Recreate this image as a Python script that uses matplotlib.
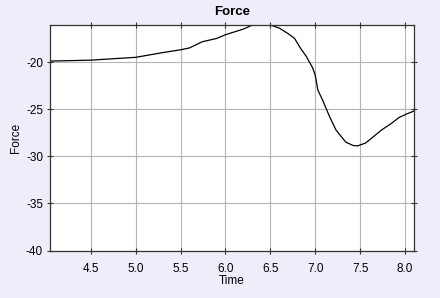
import matplotlib
matplotlib.use("Agg")
import matplotlib.pyplot as plt

# values
time_s = [4.04, 4.5, 5.0, 5.3, 5.5, 5.6, 5.74, 5.9, 6.0, 6.2, 6.3, 6.5, 6.6, 6.7, 6.77,
          6.84, 6.9, 6.97, 7.0, 7.03, 7.08, 7.12, 7.16, 7.23, 7.34, 7.42, 7.47, 7.56,
          7.65, 7.74, 7.85, 7.93, 8.02, 8.1]
force = [-19.9, -19.8, -19.5, -19.0, -18.7, -18.5, -17.85, -17.5, -17.1, -16.5, -16.07,
         -16.07, -16.4, -17.0, -17.5, -18.6, -19.4, -20.6, -21.4, -23.0, -24.0, -24.9,
         -25.8, -27.2, -28.5, -28.85, -28.9, -28.6, -27.9, -27.2, -26.5, -25.9, -25.5, -25.2]

xticks = [4.5, 5.0, 5.5, 6.0, 6.5, 7.0, 7.5, 8.0]
yticks = [-40, -35, -30, -25, -20]

plt.rcParams['font.family'] = ['Liberation Sans', 'DejaVu Sans']
plt.rcParams['axes.unicode_minus'] = False
bg = '#eeeefa'

fig = plt.figure(figsize=(4.4, 2.98), dpi=100, facecolor=bg)
ax = fig.add_axes([50/440, 1 - 251/298, 364/440, 226/298])
ax.plot(time_s, force, color='black', linewidth=0.9)

ax.set_xlim(4.045, 8.1)
ax.set_ylim(-40.05, -16.07)
ax.set_xticks(xticks)
ax.set_xticklabels(["{:.1f}".format(t) for t in xticks])
ax.set_yticks(yticks)
ax.grid(True, color='#b4b4b4', linewidth=0.8)
ax.tick_params(direction='inout', length=4, top=True, right=True, labelsize=8.5,
               color='#333333')
ax.tick_params(axis='x', pad=7)
ax.tick_params(axis='y', pad=3)
for s in ax.spines.values():
    s.set_color('#333333')
    s.set_linewidth(0.9)

ax.set_xlabel("Time", fontsize=8.5, labelpad=0)
ax.set_ylabel("Force", fontsize=8.5)
ax.yaxis.set_label_coords(-0.077, 0.5)
ax.set_title("Force", fontsize=9.5, fontweight='bold', pad=7)

fig.savefig("out.png", dpi=100, facecolor=bg)
